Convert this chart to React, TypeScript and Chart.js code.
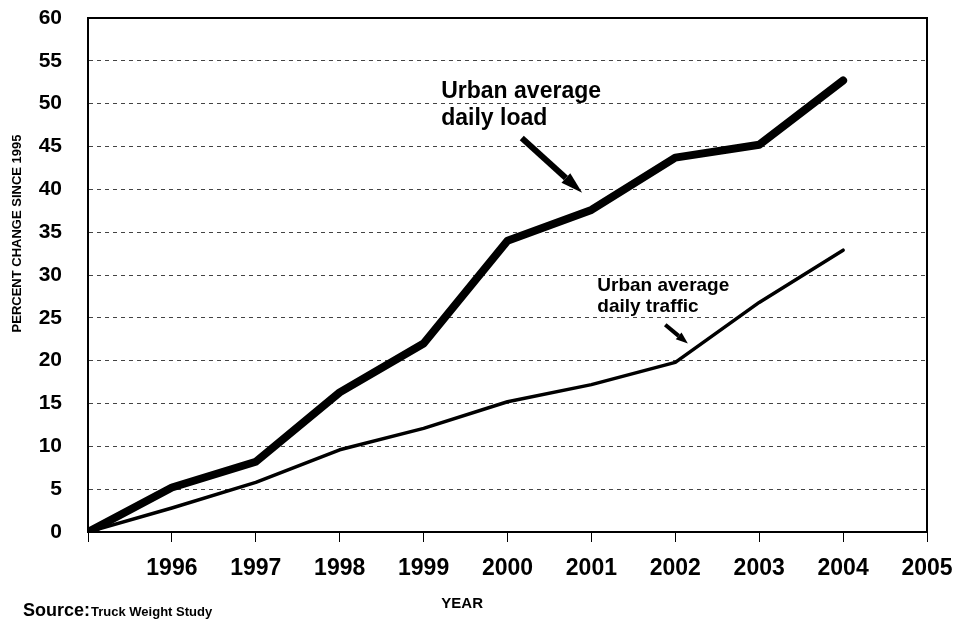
import { useEffect, useRef } from "react";
import { Chart, registerables } from "chart.js";

Chart.register(...registerables);

const FONT = '"Liberation Sans", Arial, Helvetica, sans-serif';

// ---- data ----
const years = [1995, 1996, 1997, 1998, 1999, 2000, 2001, 2002, 2003, 2004];
const loadPct = [0, 5.2, 8.2, 16.3, 22.0, 34.0, 37.6, 43.7, 45.2, 52.7];
const trafficPct = [0, 2.8, 5.8, 9.6, 12.1, 15.2, 17.2, 19.8, 26.8, 32.9];

const xMin = 1995;
const xMax = 2005;
const yMin = 0;
const yMax = 60;
const yStep = 5;

const loadLabel = ["Urban average", "daily load"];
const trafficLabel = ["Urban average", "daily traffic"];
const yTitle = "PERCENT CHANGE SINCE 1995";
const xTitle = "YEAR";
const sourceLead = "Source:";
const sourceText = "Truck Weight Study";

// annotation anchors (data coordinates)
const loadLabelAnchor = { x: 1999.21, y1: 51.4, y2: 48.2 };
const loadArrow = { x1: 2000.17, y1: 46.0, x2: 2000.89, y2: 39.6 };
const trafficLabelAnchor = { x: 2001.07, y1: 28.8, y2: 26.3 };
const trafficArrow = { x1: 2001.88, y1: 24.2, x2: 2002.15, y2: 22.0 };
const xTitleAt = 1999.46;
const yTitleAt = 34.85;

function drawArrow(
  ctx: CanvasRenderingContext2D,
  x1: number,
  y1: number,
  x2: number,
  y2: number,
  w: number,
  headLen: number,
  headW: number
) {
  const ang = Math.atan2(y2 - y1, x2 - x1);
  const bx = x2 - headLen * Math.cos(ang);
  const by = y2 - headLen * Math.sin(ang);
  ctx.save();
  ctx.strokeStyle = "#000";
  ctx.fillStyle = "#000";
  ctx.lineWidth = w;
  ctx.lineCap = "butt";
  ctx.beginPath();
  ctx.moveTo(x1, y1);
  ctx.lineTo(bx, by);
  ctx.stroke();
  const px = -Math.sin(ang);
  const py = Math.cos(ang);
  ctx.beginPath();
  ctx.moveTo(x2, y2);
  ctx.lineTo(bx + (px * headW) / 2, by + (py * headW) / 2);
  ctx.lineTo(bx - (px * headW) / 2, by - (py * headW) / 2);
  ctx.closePath();
  ctx.fill();
  ctx.restore();
}

const framePlugin = {
  id: "frame",
  beforeDatasetsDraw(chart: any) {
    const { ctx, chartArea: a } = chart;
    ctx.save();
    ctx.strokeStyle = "#000";
    ctx.lineWidth = 2;
    ctx.strokeRect(a.left, a.top, a.right - a.left, a.bottom - a.top);
    ctx.restore();
  },
  afterDatasetsDraw(chart: any) {
    const { ctx, chartArea: a, scales } = chart;
    const x = scales.x;
    const y = scales.y;
    ctx.save();
    ctx.fillStyle = "#000";
    ctx.textAlign = "left";
    ctx.textBaseline = "middle";

    ctx.font = `bold 23px ${FONT}`;
    ctx.fillText(loadLabel[0], x.getPixelForValue(loadLabelAnchor.x), y.getPixelForValue(loadLabelAnchor.y1));
    ctx.fillText(loadLabel[1], x.getPixelForValue(loadLabelAnchor.x), y.getPixelForValue(loadLabelAnchor.y2));
    drawArrow(
      ctx,
      x.getPixelForValue(loadArrow.x1),
      y.getPixelForValue(loadArrow.y1),
      x.getPixelForValue(loadArrow.x2),
      y.getPixelForValue(loadArrow.y2),
      6,
      22,
      13
    );

    ctx.font = `bold 19px ${FONT}`;
    ctx.fillText(trafficLabel[0], x.getPixelForValue(trafficLabelAnchor.x), y.getPixelForValue(trafficLabelAnchor.y1));
    ctx.fillText(trafficLabel[1], x.getPixelForValue(trafficLabelAnchor.x), y.getPixelForValue(trafficLabelAnchor.y2));
    drawArrow(
      ctx,
      x.getPixelForValue(trafficArrow.x1),
      y.getPixelForValue(trafficArrow.y1),
      x.getPixelForValue(trafficArrow.x2),
      y.getPixelForValue(trafficArrow.y2),
      4,
      12,
      9
    );

    // y title
    ctx.save();
    ctx.translate(17, y.getPixelForValue(yTitleAt));
    ctx.rotate(-Math.PI / 2);
    ctx.textAlign = "center";
    ctx.font = `bold 13px ${FONT}`;
    ctx.fillText(yTitle, 0, 0);
    ctx.restore();

    // x title
    ctx.textAlign = "center";
    ctx.font = `bold 15px ${FONT}`;
    ctx.fillText(xTitle, x.getPixelForValue(xTitleAt), a.bottom + 72);

    // source
    ctx.textAlign = "left";
    ctx.font = `bold 18px ${FONT}`;
    ctx.fillText(sourceLead, 23, a.bottom + 79);
    const w = ctx.measureText(sourceLead).width;
    ctx.font = `bold 13px ${FONT}`;
    ctx.fillText(sourceText, 23 + w + 1, a.bottom + 80);
    ctx.restore();
  },
};

export default function App() {
  const canvasRef = useRef<HTMLCanvasElement | null>(null);

  useEffect(() => {
    const canvas = canvasRef.current;
    if (!canvas) return;
    const chart = new Chart(canvas, {
      type: "line",
      data: {
        datasets: [
          {
            label: "Urban average daily load",
            data: years.map((yr, i) => ({ x: yr, y: loadPct[i] })),
            borderColor: "#000",
            backgroundColor: "#000",
            borderWidth: 8,
            pointRadius: 0,
            tension: 0,
            borderJoinStyle: "round",
            borderCapStyle: "round",
          },
          {
            label: "Urban average daily traffic",
            data: years.map((yr, i) => ({ x: yr, y: trafficPct[i] })),
            borderColor: "#000",
            backgroundColor: "#000",
            borderWidth: 3.5,
            pointRadius: 0,
            tension: 0,
            borderJoinStyle: "round",
            borderCapStyle: "round",
          },
        ],
      },
      options: {
        animation: false,
        responsive: true,
        maintainAspectRatio: false,
        layout: { padding: { top: 18, right: 33, bottom: 32, left: 0 } },
        plugins: {
          legend: { display: false },
          tooltip: { enabled: false },
        },
        scales: {
          x: {
            type: "linear",
            min: xMin,
            max: xMax,
            afterFit: (s: any) => {
              s.height = 60;
              s.paddingLeft = 0;
              s.paddingRight = 0;
            },
            ticks: {
              stepSize: 1,
              autoSkip: false,
              maxRotation: 0,
              padding: 13,
              color: "#000",
              font: { family: FONT, size: 23, weight: "bold" },
              callback: (v: any) => (Number(v) === xMin ? "" : String(v)),
            },
            grid: {
              drawOnChartArea: false,
              drawTicks: true,
              tickLength: 10,
              color: "#000",
              lineWidth: 1,
            },
            border: { display: true, color: "#000", width: 2 },
          },
          y: {
            min: yMin,
            max: yMax,
            afterFit: (s: any) => {
              s.width = 88;
              s.paddingTop = 0;
              s.paddingBottom = 0;
            },
            ticks: {
              stepSize: yStep,
              padding: 26,
              color: "#000",
              font: { family: FONT, size: 21, weight: "bold" },
            },
            grid: {
              drawTicks: false,
              color: "#444",
              lineWidth: 1,
            },
            border: { display: true, color: "#000", width: 2, dash: [4, 4] },
          },
        },
      },
      plugins: [framePlugin],
    });
    return () => chart.destroy();
  }, []);

  return (
    <div style={{ position: "fixed", left: 0, top: 0, width: 960, height: 624, background: "#fff" }}>
      <canvas ref={canvasRef} />
    </div>
  );
}
